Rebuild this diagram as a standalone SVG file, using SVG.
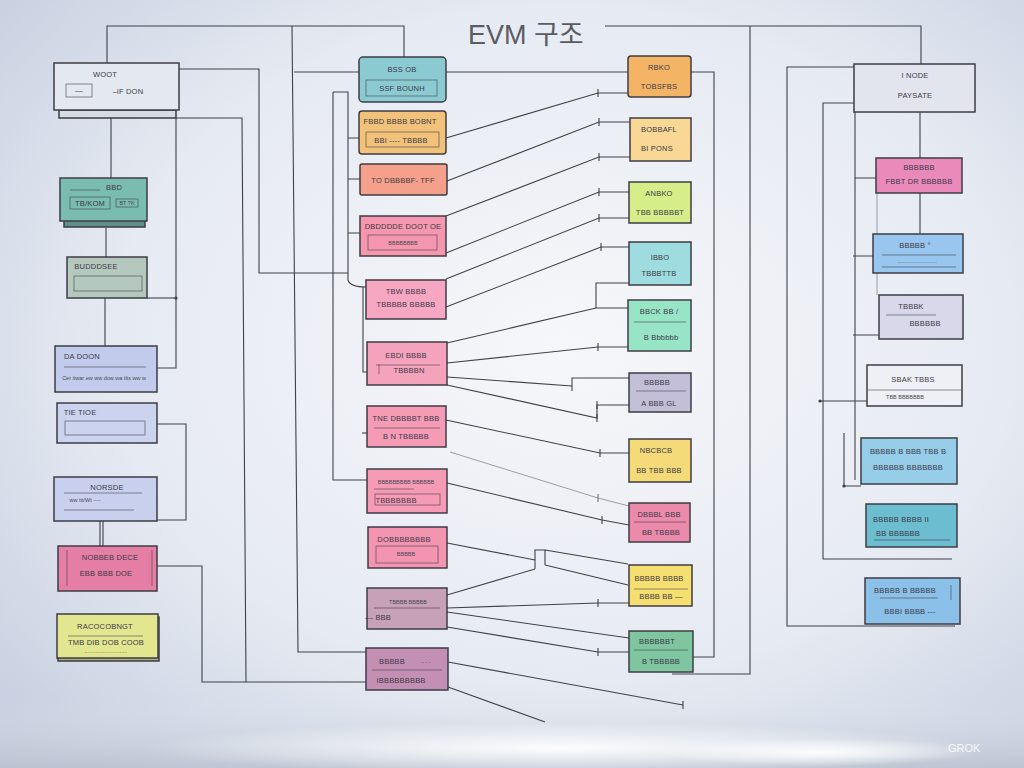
<svg xmlns="http://www.w3.org/2000/svg" width="1024" height="768" viewBox="0 0 1024 768">
<defs>
<radialGradient id="bg" cx="0.55" cy="0.45" r="0.8">
<stop offset="0" stop-color="#f6f7fa"/>
<stop offset="0.55" stop-color="#e6eaf2"/>
<stop offset="1" stop-color="#bfc9dc"/>
</radialGradient>
<radialGradient id="mist" cx="0.5" cy="0.5" r="0.5">
<stop offset="0" stop-color="#ffffff" stop-opacity="0.95"/>
<stop offset="1" stop-color="#ffffff" stop-opacity="0"/>
</radialGradient>
<linearGradient id="floor" x1="0" y1="0" x2="0" y2="1">
<stop offset="0" stop-color="#dfe4ec" stop-opacity="0"/>
<stop offset="1" stop-color="#b9c1cf" stop-opacity="0.8"/>
</linearGradient>
<marker id="tick" markerWidth="4" markerHeight="8" refX="2" refY="4" orient="0" markerUnits="userSpaceOnUse">
<path d="M2,0 V8" stroke="#3d3f47" stroke-width="1.1"/>
</marker>
<marker id="dot" markerWidth="5" markerHeight="5" refX="2.5" refY="2.5" markerUnits="userSpaceOnUse">
<circle cx="2.5" cy="2.5" r="1.6" fill="#3d3f47"/>
</marker>
</defs>
<style>
.n{stroke:#3e3c46;stroke-width:1.5}
.in{fill:none;stroke:#3e3c46;stroke-width:0.8;opacity:0.7}
.t{font-family:"Liberation Sans","DejaVu Sans",sans-serif;font-size:7.5px;fill:#3c3a48;text-anchor:middle;letter-spacing:0.2px}
.ts{font-family:"Liberation Sans","DejaVu Sans",sans-serif;font-size:5.5px;fill:#4a4856;text-anchor:middle}
.c{fill:none;stroke:#3f424a;stroke-width:1.1}
.cl{fill:none;stroke:#5a5e68;stroke-width:0.8;opacity:0.7}
.m{marker-mid:url(#tick)}
</style>
<rect width="1024" height="768" fill="url(#bg)"/>
<rect x="0" y="700" width="1024" height="68" fill="url(#floor)"/>
<ellipse cx="560" cy="748" rx="420" ry="26" fill="url(#mist)"/>
<ellipse cx="820" cy="752" rx="160" ry="14" fill="url(#mist)"/>

<text x="468" y="44" font-family="Liberation Sans,Noto Sans CJK KR,sans-serif" font-size="27" fill="#5a5c63">EVM 구조</text>

<g id="connectors">
<path class="c" d="M107,63 V26 H404 V57"/>
<path class="c" d="M605,26 H921 V64"/>
<path class="c" d="M750,26 V674 H672"/>
<path class="c" d="M292,26 L298,652 H366"/>
<path class="c" d="M294,72 H359"/>
<path class="c" d="M179,69 H259 V273 H348"/>
<path class="c" d="M333,92 H348 V280 Q350,287 366,287"/>
<path class="c" d="M348,138 H359 M348,179 H360 M348,233 H360"/>
<path class="c" d="M333,92 V480 H367"/>
<path class="c" d="M363,287 V372 H367"/>
<path class="c" d="M362,433 H367"/>
<path class="c" d="M176,118 H242 L246,682 H366"/>
<path class="c" d="M157,566 H202 V682 H246"/>
<path class="c" d="M176,118 V368 H156"/>
<path class="c" d="M147,298 H176" marker-end="url(#dot)"/>
<path class="c" d="M157,424 H186 V520 H157"/>
<path class="c" d="M111,118 V178 M106,228 V257 M105,298 V346 M100,521 V546 M103,521 V546"/>

<path class="c" d="M446,72 H628"/>
<path class="c m" d="M446,138 L598,93 H628"/>
<path class="c m" d="M447,181 L599,122 H630"/>
<path class="c m" d="M446,216 L599,157 H630"/>
<path class="c m" d="M446,253 L599,192 H629"/>
<path class="c m" d="M446,279 L599,218 H629"/>
<path class="c m" d="M446,307 L601,247 H629"/>
<path class="c" d="M629,283 H596 V308 H628"/>
<path class="c" d="M447,343 L596,308"/>
<path class="c m" d="M447,363 L598,347 H628"/>
<path class="c" d="M447,377 L572,386 M572,391 V378 H629"/>
<path class="c m" d="M447,385 L597,418 V405 H629"/>
<path class="c m" d="M446,420 L600,453 H629"/>
<path class="cl m" d="M450,452 L598,498 L629,506"/>
<path class="c m" d="M447,483 L602,520 L629,525"/>
<path class="c" d="M447,543 L535,560 M535,569 V550 H545 V565 M545,550 L628,564 M545,565 L628,585 M447,595 L535,569"/>
<path class="c m" d="M447,608 L598,603 H629"/>
<path class="c" d="M447,612 L629,638"/>
<path class="c m" d="M447,627 L598,652 H629"/>
<path class="c" d="M448,662 L683,705" marker-end="url(#tick)"/>
<path class="c" d="M448,687 L545,722"/>
<path class="c" d="M691,72 H714 V657 H693"/>

<path class="c" d="M855,67 H787 V626 H955"/>
<path class="c" d="M855,103 H823 V559 H952"/>
<path class="c" d="M855,112 V480"/>
<path class="c" d="M855,178 H876 M853,256 H873 M853,335 H879"/>
<path class="c" d="M820,401 H867" marker-start="url(#dot)"/>
<path class="c" d="M844,433 V486 H861" marker-mid="url(#dot)"/>
<path class="c" d="M920,112 V158 M920,193 V234"/>
<path class="cl" d="M877,193 V295"/>
</g>

<g id="n-woot">
<rect x="59" y="110" width="117" height="8" fill="#d7dbe4" class="n"/>
<rect x="54" y="63" width="125" height="47" fill="#e4e8ef" class="n"/>
<text class="t" x="105" y="77">WOOT</text>
<rect x="66" y="84" width="26" height="13" class="in"/>
<text class="t" x="79" y="93">—</text>
<text class="t" x="128" y="94">–iF  DON</text>
</g>
<g id="n-bbd">
<rect x="64" y="216" width="81" height="11" fill="#5f8f8a" class="n"/>
<rect x="60" y="178" width="87" height="43" fill="#7bbcb0" class="n"/>
<text class="t" x="114" y="190" font-size="10">BBD</text>
<line x1="70" y1="190" x2="100" y2="190" class="in"/>
<rect x="70" y="197" width="40" height="12" class="in"/>
<text class="t" x="90" y="206">TB/KOM</text>
<rect x="116" y="199" width="22" height="8" class="in" fill="#a8d4cb"/>
<text class="ts" x="127" y="205">BT ?K</text>
</g>
<g id="n-buddd">
<rect x="67" y="257" width="80" height="41" fill="#b5c8be" class="n"/>
<text class="t" x="96" y="269">BUDDDSEE</text>
<rect x="74" y="276" width="68" height="15" fill="#c9ced8" class="in"/>
</g>
<g id="n-daddon">
<rect x="55" y="346" width="102" height="46" fill="#c3cbec" class="n"/>
<text class="t" x="82" y="359">DA DOON</text>
<line x1="64" y1="367" x2="146" y2="367" class="in"/>
<text class="ts" x="104" y="380">Cer itwar ew ww dow wa tlts ww w</text>
</g>
<g id="n-tie">
<rect x="57" y="403" width="100" height="40" fill="#cbd3ee" class="n"/>
<text class="t" x="80" y="415">TIE TIOE</text>
<rect x="65" y="421" width="80" height="14" class="in"/>
</g>
<g id="n-norsde">
<rect x="54" y="477" width="103" height="44" fill="#c8d0ee" class="n"/>
<text class="t" x="107" y="490">NORSDE</text>
<line x1="64" y1="493" x2="142" y2="493" class="in"/>
<text class="ts" x="85" y="502">ww ttt/Wt   ----</text>
<line x1="64" y1="510" x2="134" y2="510" class="in"/>
</g>
<g id="n-nobbeb">
<rect x="58" y="546" width="99" height="45" fill="#e47ea4" class="n"/>
<line x1="67" y1="550" x2="67" y2="586" class="in"/>
<line x1="152" y1="550" x2="152" y2="586" class="in"/>
<text class="t" x="110" y="560" fill="#5a2038">NOBBEB DECE</text>
<text class="t" x="106" y="576" fill="#5a2038">EBB  BBB  DOE</text>
</g>
<g id="n-racoco">
<rect x="58" y="617" width="101" height="44" fill="#a9ac78" class="n"/>
<rect x="57" y="614" width="101" height="44" fill="#e2e690" class="n"/>
<text class="t" x="105" y="629">RACOCOBNGT</text>
<line x1="68" y1="636" x2="143" y2="636" class="in"/>
<text class="t" x="106" y="645">TMB DIB DOB COOB</text>
<text class="ts" x="106" y="653">............................</text>
</g>

<g id="n-a">
<rect x="359" y="57" width="87" height="45" rx="4" fill="#8ccad2" class="n"/>
<text class="t" x="402" y="72">BSS OB</text>
<rect x="366" y="80" width="71" height="16" fill="#9fd6dc" class="in"/>
<text class="t" x="402" y="91">SSF  BOUNH</text>
</g>
<g id="n-b">
<rect x="359" y="111" width="87" height="43" rx="3" fill="#f2c27a" class="n"/>
<text class="t" x="400" y="124" font-size="6.5">FBBD  BBBB BOBNT</text>
<rect x="366" y="132" width="73" height="15" class="in"/>
<text class="t" x="401" y="143" font-size="6.5">BBI  ---- TBBBB</text>
</g>
<g id="n-c">
<rect x="360" y="164" width="87" height="31" rx="2" fill="#f5a08a" class="n"/>
<text class="t" x="403" y="183">TO DBBBBF- TFF</text>
</g>
<g id="n-d">
<rect x="360" y="216" width="86" height="40" fill="#f597ae" class="n"/>
<text class="t" x="403" y="229" font-size="6.5">DBDDDDE DOOT OE</text>
<rect x="368" y="235" width="69" height="15" class="in"/>
<text class="ts" x="403" y="245">BBBBBBBB</text>
</g>
<g id="n-e">
<rect x="366" y="280" width="80" height="39" fill="#f7a7c2" class="n"/>
<text class="t" x="406" y="294">TBW  BBBB</text>
<text class="t" x="406" y="307">TBBBBB  BBBBB</text>
</g>
<g id="n-f">
<rect x="367" y="342" width="80" height="43" fill="#f5a2bd" class="n"/>
<text class="t" x="406" y="358">EBDI  BBBB</text>
<line x1="376" y1="365" x2="440" y2="365" class="in"/>
<line x1="379" y1="364" x2="379" y2="374" class="in"/>
<text class="t" x="409" y="373">TBBBBN</text>
</g>
<g id="n-g">
<rect x="367" y="406" width="79" height="41" fill="#f59bb6" class="n"/>
<text class="t" x="406" y="421" font-size="6.8">TNE DBBBBT BBB</text>
<line x1="374" y1="428" x2="440" y2="428" class="in"/>
<text class="t" x="406" y="439">B N TBBBBB</text>
</g>
<g id="n-h">
<rect x="367" y="469" width="80" height="44" fill="#f69bb6" class="n"/>
<text class="ts" x="406" y="484">BBBBBBBBB  BBBBBB</text>
<line x1="374" y1="489" x2="414" y2="489" class="in"/>
<rect x="375" y="494" width="65" height="11" class="in"/>
<text class="t" x="396" y="503">TBBBBBBB</text>
</g>
<g id="n-i">
<rect x="368" y="527" width="79" height="41" fill="#f394b1" class="n"/>
<text class="t" x="404" y="542">DOBBBBBBBB</text>
<rect x="376" y="546" width="62" height="17" class="in"/>
<text class="ts" x="406" y="556">BBBBB</text>
</g>
<g id="n-j">
<rect x="367" y="588" width="80" height="41" fill="#c7a1b6" class="n"/>
<text class="ts" x="408" y="604">TBBBB  BBBBB</text>
<line x1="374" y1="608" x2="440" y2="608" class="in"/>
<text class="t" x="378" y="620" text-anchor="start">---        BBB</text>
</g>
<g id="n-k">
<rect x="366" y="648" width="82" height="42" fill="#c48fb5" class="n"/>
<text class="t" x="392" y="664">BBBBB</text>
<text class="ts" x="426" y="664">- - -</text>
<line x1="372" y1="670" x2="442" y2="670" class="in"/>
<text class="t" x="401" y="683">IBBBBBBBBB</text>
</g>

<g id="n-r1">
<rect x="628" y="56" width="63" height="41" rx="3" fill="#f4b466" class="n"/>
<text class="t" x="659" y="70">RBKO</text>
<text class="t" x="659" y="89">TOBSFBS</text>
</g>
<g id="n-r2">
<rect x="630" y="118" width="61" height="43" fill="#f9d795" class="n"/>
<text class="t" x="659" y="132">BOBBAFL</text>
<text class="t" x="657" y="151">BI PONS</text>
</g>
<g id="n-r3">
<rect x="629" y="182" width="62" height="41" fill="#d5ee8a" class="n"/>
<text class="t" x="659" y="196">ANBKO</text>
<text class="t" x="660" y="215" font-size="6.8">TBB BBBBBT</text>
</g>
<g id="n-r4">
<rect x="629" y="242" width="62" height="43" fill="#9fdce0" class="n"/>
<text class="t" x="660" y="260" font-size="11">IBBO</text>
<text class="t" x="659" y="276">TBBBTTB</text>
</g>
<g id="n-r5">
<rect x="628" y="300" width="63" height="51" fill="#98e4c6" class="n"/>
<text class="t" x="659" y="314">BBCK BB /</text>
<line x1="634" y1="322" x2="686" y2="322" class="in"/>
<text class="t" x="661" y="340">B  Bbbbbb</text>
</g>
<g id="n-r6">
<rect x="629" y="373" width="62" height="39" fill="#c4bfd8" class="n"/>
<text class="t" x="657" y="385">BBBBB</text>
<line x1="636" y1="391" x2="686" y2="391" class="in"/>
<text class="t" x="659" y="406">A BBB GL</text>
</g>
<g id="n-r7">
<rect x="629" y="439" width="62" height="43" fill="#f4da78" class="n"/>
<text class="t" x="656" y="453">NBCBCB</text>
<text class="t" x="659" y="473" font-size="6.8">BB TBB BBB</text>
</g>
<g id="n-r8">
<rect x="629" y="503" width="61" height="39" fill="#eb8aab" class="n"/>
<text class="t" x="659" y="517" font-size="6.8">DBBBL BBB</text>
<line x1="634" y1="522" x2="686" y2="522" class="in"/>
<text class="t" x="661" y="535">BB TBBBB</text>
</g>
<g id="n-r9">
<rect x="629" y="565" width="63" height="41" fill="#f5df70" class="n"/>
<text class="t" x="659" y="581" font-size="6.8">BBBBB BBBB</text>
<line x1="634" y1="589" x2="688" y2="589" class="in"/>
<text class="t" x="661" y="599">BBBB BB —</text>
</g>
<g id="n-r10">
<rect x="629" y="631" width="64" height="41" fill="#7fc59f" class="n"/>
<text class="t" x="657" y="644">BBBBBBT</text>
<line x1="634" y1="650" x2="688" y2="650" class="in"/>
<text class="t" x="661" y="664">B  TBBBBB</text>
</g>

<g id="n-p1">
<rect x="854" y="64" width="121" height="48" fill="#e2e5ee" class="n"/>
<text class="t" x="915" y="78">I NODE</text>
<text class="t" x="915" y="98" font-size="10">PAYSATE</text>
</g>
<g id="n-p2">
<rect x="876" y="158" width="86" height="35" fill="#e98abb" class="n"/>
<text class="t" x="919" y="170">BBBBBB</text>
<text class="t" x="919" y="184" font-size="7">FBBT DR BBBBBB</text>
</g>
<g id="n-p3">
<rect x="873" y="234" width="90" height="39" fill="#98c6ee" class="n"/>
<text class="t" x="915" y="248">BBBBB  °</text>
<line x1="882" y1="255" x2="956" y2="255" class="in"/>
<text class="ts" x="917" y="263">..........................</text>
<line x1="882" y1="267" x2="956" y2="267" class="in"/>
</g>
<g id="n-p4">
<rect x="879" y="295" width="84" height="44" fill="#d9d8ea" class="n"/>
<text class="t" x="911" y="309">TBBBK</text>
<line x1="886" y1="315" x2="936" y2="315" class="in"/>
<text class="t" x="925" y="326">BBBBBB</text>
</g>
<g id="n-p5">
<rect x="867" y="365" width="95" height="41" fill="#eef0f6" class="n"/>
<text class="t" x="913" y="382" font-size="9">SBAK   TBBS</text>
<line x1="868" y1="390" x2="961" y2="390" class="in"/>
<text class="ts" x="905" y="399">TBB BBBBBBB</text>
</g>
<g id="n-p6">
<rect x="861" y="438" width="96" height="46" fill="#96cde8" class="n"/>
<text class="t" x="908" y="454" font-size="6.8">BBBBB B BBB TBB   B</text>
<text class="t" x="908" y="470" font-size="7">BBBBBB BBBBBBB</text>
</g>
<g id="n-p7">
<rect x="866" y="504" width="91" height="43" fill="#6dbdd0" class="n"/>
<text class="t" x="901" y="522" font-size="8.5">BBBBB BBBB  II</text>
<text class="t" x="898" y="536">BB BBBBBB</text>
<line x1="874" y1="540" x2="950" y2="540" class="in"/>
</g>
<g id="n-p8">
<rect x="865" y="578" width="95" height="46" fill="#8bc0e8" class="n"/>
<text class="t" x="905" y="593">BBBBB B BBBBB</text>
<line x1="880" y1="598" x2="938" y2="598" class="in"/>
<line x1="951" y1="585" x2="951" y2="600" class="in"/>
<text class="t" x="910" y="614">BBBI   BBBB  ---</text>
</g>

<text x="948" y="752" font-family="Liberation Sans,sans-serif" font-size="11" fill="#ffffff" opacity="0.85">GROK</text>
</svg>
